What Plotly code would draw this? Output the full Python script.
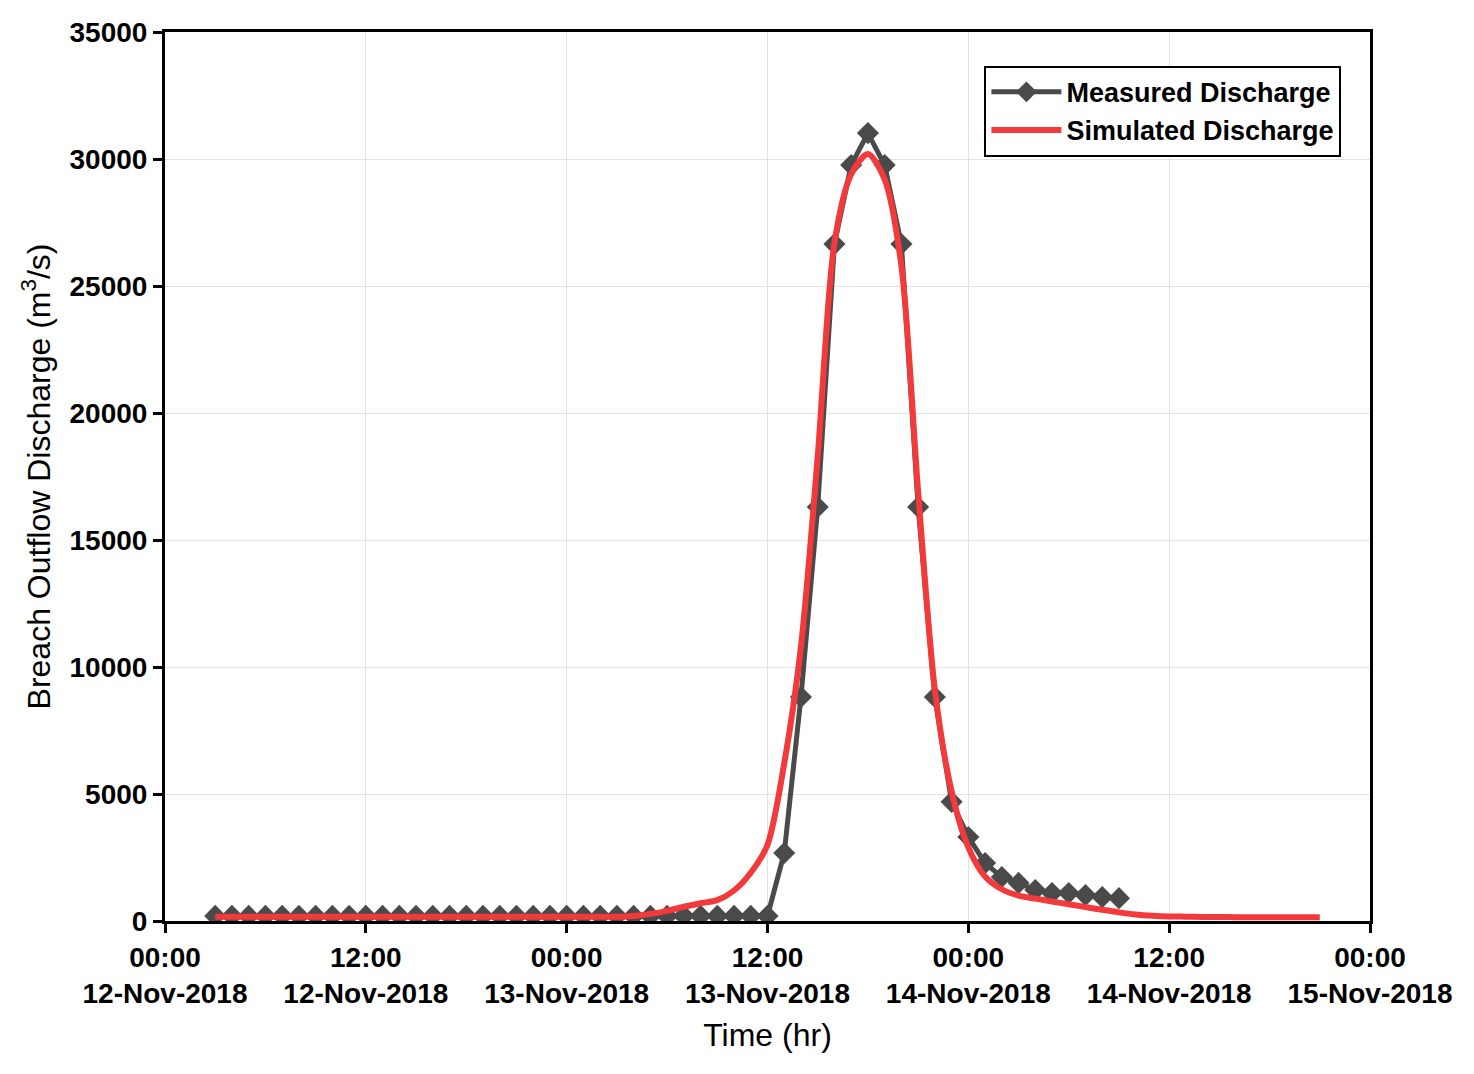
import plotly.graph_objects as go
from datetime import datetime, timedelta

base = datetime(2018, 11, 12, 0, 0)

# Measured discharge: hourly from 03:00 12-Nov-2018
measured_hours = list(range(3, 58))
measured_values = [200] * 34 + [
    2680, 8820, 16300, 26650, 29760, 31020, 29760, 26650, 16300, 8820,
    4690, 3310, 2280, 1730, 1500, 1220, 1100, 1100, 1020, 940, 900,
]

# Simulated discharge: hourly from 03:00 12-Nov-2018
sim_hours = list(range(3, 70))
sim_values = [170] * 25 + [
    200, 280, 400, 560, 700, 820, 1200, 1900, 3000, 6200, 10800, 18300,
    26700, 29400, 30200, 29200, 25800, 16900, 9100, 5100, 2900, 1750,
    1250, 1000, 880, 770, 660, 550, 440, 340, 260, 210, 180,
    170, 160, 160, 150, 150, 150, 150, 150, 150,
]

tick_hours = [0, 12, 24, 36, 48, 60, 72]
tick_text = [
    "00:00<br>12-Nov-2018", "12:00<br>12-Nov-2018", "00:00<br>13-Nov-2018",
    "12:00<br>13-Nov-2018", "00:00<br>14-Nov-2018", "12:00<br>14-Nov-2018",
    "00:00<br>15-Nov-2018",
]
y_ticks = [0, 5000, 10000, 15000, 20000, 25000, 30000, 35000]

def to_time(hours):
    return [base + timedelta(hours=h) for h in hours]

fig = go.Figure()
fig.add_trace(go.Scatter(
    x=to_time(measured_hours), y=measured_values, mode="lines+markers",
    name="Measured Discharge",
    line=dict(color="#4a4a4a", width=5),
    marker=dict(symbol="diamond", size=17, color="#4a4a4a"),
))
fig.add_trace(go.Scatter(
    x=to_time(sim_hours), y=sim_values, mode="lines",
    name="Simulated Discharge", line=dict(color="#f23a3c", width=6, shape="spline", smoothing=0.8),
))

font_family = "Liberation Sans, Arial, sans-serif"
fig.update_layout(
    width=1474, height=1074,
    margin=dict(l=165, r=104, t=32, b=153),
    paper_bgcolor="white", plot_bgcolor="white",
    font=dict(family=font_family, color="black"),
    showlegend=True,
    legend=dict(
        x=0.68, y=0.962, xanchor="left", yanchor="top",
        bgcolor="white", bordercolor="black", borderwidth=2,
        font=dict(size=27, family=font_family, color="black", weight="bold"),
        itemwidth=70, tracegroupgap=0,
    ),
)
fig.update_xaxes(
    range=[base, base + timedelta(hours=72)],
    tickvals=to_time(tick_hours), ticktext=tick_text,
    tickfont=dict(size=28, family=font_family, color="black", weight="bold"),
    showgrid=True, gridcolor="#e2e2e2", gridwidth=1,
    showline=True, linecolor="black", linewidth=3, mirror=True,
    ticks="outside", ticklen=9, tickwidth=3, tickcolor="black",
    zeroline=False,
    title=dict(text="Time (hr)", font=dict(size=32, family=font_family, color="black"), standoff=16),
)
fig.update_yaxes(
    range=[0, 35000],
    tickvals=y_ticks, ticktext=[str(v) for v in y_ticks],
    tickfont=dict(size=28, family=font_family, color="black", weight="bold"),
    showgrid=True, gridcolor="#e2e2e2", gridwidth=1,
    showline=True, linecolor="black", linewidth=3, mirror=True,
    ticks="outside", ticklen=9, tickwidth=3, tickcolor="black",
    zeroline=False,
    title=dict(text="Breach Outflow Discharge (m<sup>3</sup>/s)",
               font=dict(size=32, family=font_family, color="black"), standoff=10),
)

fig.write_html("out.html")
